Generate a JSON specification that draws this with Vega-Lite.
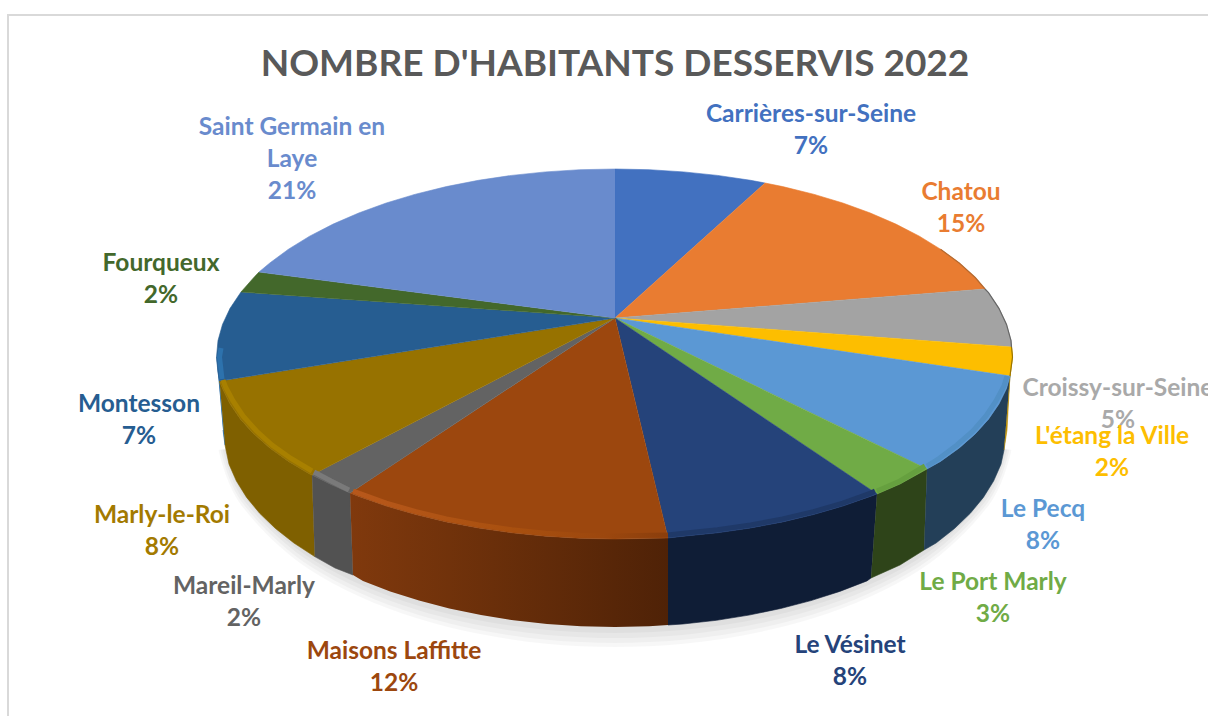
{
"$schema":"https://vega.github.io/schema/vega-lite/v6.json",
"width":1208,"height":716,"padding":0,"autosize":{"type":"none"},"background":"white",
"view":{"stroke":null},
"title":{"text":"NOMBRE D'HABITANTS DESSERVIS 2022","anchor":"middle","offset":-113,"dx":11,"baseline":"alphabetic","font":"Lato","fontSize":37,"fontWeight":700,"color":"#595959"},
"datasets":{
"frame":[{"part":"frame","i":1,"x":-607,"y":-398},{"part":"frame","i":2,"x":-607,"y":303},{"part":"frame","i":3,"x":593,"y":303}],
"shadow":[
{"part":"s1","i":0,"x":-390.5,"y":-130.6},{"part":"s1","i":1,"x":-368.4,"y":-182.1},{"part":"s1","i":2,"x":-300.3,"y":-242.9},{"part":"s1","i":3,"x":-196,"y":-287.9},{"part":"s1","i":4,"x":-68.1,"y":-311.9},{"part":"s1","i":5,"x":68.1,"y":-311.9},{"part":"s1","i":6,"x":196,"y":-287.9},{"part":"s1","i":7,"x":300.3,"y":-242.9},{"part":"s1","i":8,"x":368.4,"y":-182.1},{"part":"s1","i":8.5,"x":390.5,"y":-130.6},
{"part":"s2","i":0,"x":-392.5,"y":-131},{"part":"s2","i":1,"x":-370.2,"y":-183.8},{"part":"s2","i":2,"x":-301.8,"y":-246.1},{"part":"s2","i":3,"x":-197,"y":-292.3},{"part":"s2","i":4,"x":-68.4,"y":-316.9},{"part":"s2","i":5,"x":68.4,"y":-316.9},{"part":"s2","i":6,"x":197,"y":-292.3},{"part":"s2","i":7,"x":301.8,"y":-246.1},{"part":"s2","i":8,"x":370.2,"y":-183.8},{"part":"s2","i":8.5,"x":392.5,"y":-131},
{"part":"s3","i":0,"x":-394.5,"y":-131.5},{"part":"s3","i":1,"x":-372.1,"y":-185.5},{"part":"s3","i":2,"x":-303.3,"y":-249.3},{"part":"s3","i":3,"x":-198,"y":-296.6},{"part":"s3","i":4,"x":-68.8,"y":-321.8},{"part":"s3","i":5,"x":68.8,"y":-321.8},{"part":"s3","i":6,"x":198,"y":-296.6},{"part":"s3","i":7,"x":303.3,"y":-249.3},{"part":"s3","i":8,"x":372.1,"y":-185.5},{"part":"s3","i":8.5,"x":394.5,"y":-131.5},
{"part":"s4","i":0,"x":-396.5,"y":-131.8},{"part":"s4","i":1,"x":-374,"y":-186.9},{"part":"s4","i":2,"x":-304.9,"y":-251.9},{"part":"s4","i":3,"x":-199,"y":-300},{"part":"s4","i":4,"x":-69.1,"y":-325.7},{"part":"s4","i":5,"x":69.1,"y":-325.7},{"part":"s4","i":6,"x":199,"y":-300},{"part":"s4","i":7,"x":304.9,"y":-251.9},{"part":"s4","i":8,"x":374,"y":-186.9},{"part":"s4","i":8.5,"x":396.5,"y":-131.8}
],
"sides":[
{"part":"Montesson côté","i":1,"x":-398.5,"y":-39},{"part":"Montesson côté","i":2,"x":-395.5,"y":-63},{"part":"Montesson côté","i":3,"x":-390,"y":-127},{"part":"Montesson côté","i":4,"x":-392,"y":-112},
{"part":"Marly côté","i":1,"x":-395.5,"y":-63},{"part":"Marly côté","i":2,"x":-392.5,"y":-70.6},{"part":"Marly côté","i":2.5,"x":-384.9,"y":-86.1},{"part":"Marly côté","i":3,"x":-374.5,"y":-101.2},{"part":"Marly côté","i":3.5,"x":-361.2,"y":-115.9},{"part":"Marly côté","i":4,"x":-345.2,"y":-130},{"part":"Marly côté","i":4.5,"x":-326.5,"y":-143.4},{"part":"Marly côté","i":5,"x":-305.4,"y":-156},{"part":"Marly côté","i":6,"x":-303,"y":-157},{"part":"Marly côté","i":7,"x":-300.3,"y":-238.6},{"part":"Marly côté","i":7.5,"x":-321.1,"y":-225},{"part":"Marly côté","i":8,"x":-339.5,"y":-210.5},{"part":"Marly côté","i":8.5,"x":-355.3,"y":-195.3},{"part":"Marly côté","i":9,"x":-368.4,"y":-179.4},{"part":"Marly côté","i":9.5,"x":-378.6,"y":-163},{"part":"Marly côté","i":10,"x":-386,"y":-146.2},{"part":"Marly côté","i":11,"x":-390,"y":-127},
{"part":"Mareil côté","i":1,"x":-303,"y":-157},{"part":"Mareil côté","i":2,"x":-285,"y":-166},{"part":"Mareil côté","i":3,"x":-265,"y":-175},{"part":"Mareil côté","i":4,"x":-262,"y":-257},{"part":"Mareil côté","i":5,"x":-280,"y":-250},{"part":"Mareil côté","i":6,"x":-300.3,"y":-238.6},
{"part":"Vésinet côté","i":1,"x":53,"y":-220},{"part":"Vésinet côté","i":2,"x":68.6,"y":-218.2},{"part":"Vésinet côté","i":2.5,"x":102.5,"y":-214.8},{"part":"Vésinet côté","i":3,"x":135.6,"y":-210},{"part":"Vésinet côté","i":3.5,"x":167.7,"y":-203.9},{"part":"Vésinet côté","i":4,"x":198.5,"y":-196.6},{"part":"Vésinet côté","i":4.5,"x":227.8,"y":-188.1},{"part":"Vésinet côté","i":5,"x":255.3,"y":-178.4},{"part":"Vésinet côté","i":6,"x":262,"y":-176},{"part":"Vésinet côté","i":7,"x":256,"y":-260},{"part":"Vésinet côté","i":8,"x":252,"y":-262.9},{"part":"Vésinet côté","i":8.5,"x":224.8,"y":-273.4},{"part":"Vésinet côté","i":9,"x":196,"y":-282.6},{"part":"Vésinet côté","i":9.5,"x":165.7,"y":-290.5},{"part":"Vésinet côté","i":10,"x":134,"y":-297.1},{"part":"Vésinet côté","i":10.5,"x":101.5,"y":-302.3},{"part":"Vésinet côté","i":11,"x":68,"y":-306},{"part":"Vésinet côté","i":12,"x":53,"y":-307},
{"part":"Port côté","i":1,"x":262,"y":-176},{"part":"Port côté","i":2,"x":285,"y":-166},{"part":"Port côté","i":3,"x":312,"y":-151},{"part":"Port côté","i":4,"x":309,"y":-232},{"part":"Port côté","i":5,"x":285,"y":-247},{"part":"Port côté","i":6,"x":256,"y":-260},
{"part":"Pecq côté","i":1,"x":312,"y":-151},{"part":"Pecq côté","i":1.5,"x":325.5,"y":-143.4},{"part":"Pecq côté","i":2,"x":344.2,"y":-130},{"part":"Pecq côté","i":2.5,"x":360.2,"y":-115.9},{"part":"Pecq côté","i":3,"x":373.5,"y":-101.2},{"part":"Pecq côté","i":3.5,"x":383.9,"y":-86.1},{"part":"Pecq côté","i":4,"x":391.5,"y":-70.6},{"part":"Pecq côté","i":5,"x":395,"y":-58},{"part":"Pecq côté","i":6,"x":389,"y":-132},{"part":"Pecq côté","i":7,"x":386,"y":-146.2},{"part":"Pecq côté","i":7.5,"x":378.6,"y":-163},{"part":"Pecq côté","i":8,"x":368.4,"y":-179.4},{"part":"Pecq côté","i":8.5,"x":355.3,"y":-195.3},{"part":"Pecq côté","i":9,"x":339.5,"y":-210.5},{"part":"Pecq côté","i":9.5,"x":321.1,"y":-225},{"part":"Pecq côté","i":10,"x":309,"y":-232},
{"part":"Étang côté","i":1,"x":395,"y":-58},{"part":"Étang côté","i":2,"x":397.5,"y":-39},{"part":"Étang côté","i":3,"x":396.5,"y":-29},{"part":"Étang côté","i":4,"x":392,"y":-112},{"part":"Étang côté","i":5,"x":389,"y":-132}
],
"maisons":[
{"part":"Maisons côté","i":1,"x":-265,"y":-175},{"part":"Maisons côté","i":2,"x":-256.3,"y":-178.4},{"part":"Maisons côté","i":2.5,"x":-228.8,"y":-188.1},{"part":"Maisons côté","i":3,"x":-199.5,"y":-196.6},{"part":"Maisons côté","i":3.5,"x":-168.7,"y":-203.9},{"part":"Maisons côté","i":4,"x":-136.6,"y":-210},{"part":"Maisons côté","i":4.5,"x":-103.5,"y":-214.8},{"part":"Maisons côté","i":5,"x":-69.6,"y":-218.2},{"part":"Maisons côté","i":5.5,"x":-35.2,"y":-220.3},{"part":"Maisons côté","i":6,"x":-0.5,"y":-221},{"part":"Maisons côté","i":6.5,"x":34.2,"y":-220.3},{"part":"Maisons côté","i":7,"x":53,"y":-220},{"part":"Maisons côté","i":8,"x":53,"y":-307},{"part":"Maisons côté","i":8.5,"x":34.2,"y":-308.3},{"part":"Maisons côté","i":9,"x":0,"y":-309},{"part":"Maisons côté","i":9.5,"x":-34.2,"y":-308.3},{"part":"Maisons côté","i":10,"x":-68,"y":-306},{"part":"Maisons côté","i":10.5,"x":-101.5,"y":-302.3},{"part":"Maisons côté","i":11,"x":-134,"y":-297.1},{"part":"Maisons côté","i":11.5,"x":-165.7,"y":-290.5},{"part":"Maisons côté","i":12,"x":-196,"y":-282.6},{"part":"Maisons côté","i":12.5,"x":-224.8,"y":-273.4},{"part":"Maisons côté","i":13,"x":-252,"y":-262.9},{"part":"Maisons côté","i":14,"x":-262,"y":-257}
],
"tops":[
{"part":"Carrières-sur-Seine","i":1,"x":0,"y":0},{"part":"Carrières-sur-Seine","i":2,"x":0,"y":149},{"part":"Carrières-sur-Seine","i":2.5,"x":34.2,"y":148.3},{"part":"Carrières-sur-Seine","i":3,"x":68.6,"y":146.1},{"part":"Carrières-sur-Seine","i":3.5,"x":102.5,"y":142.6},{"part":"Carrières-sur-Seine","i":4,"x":135.6,"y":137.7},{"part":"Carrières-sur-Seine","i":5,"x":150,"y":135},
{"part":"Chatou","i":1,"x":0,"y":0},{"part":"Chatou","i":2,"x":150,"y":135},{"part":"Chatou","i":2.5,"x":167.7,"y":131.4},{"part":"Chatou","i":3,"x":198.5,"y":123.8},{"part":"Chatou","i":3.5,"x":227.8,"y":115},{"part":"Chatou","i":4,"x":255.3,"y":105},{"part":"Chatou","i":4.5,"x":280.9,"y":93.9},{"part":"Chatou","i":5,"x":304.4,"y":81.8},{"part":"Chatou","i":5.5,"x":325.5,"y":68.8},{"part":"Chatou","i":6,"x":344.2,"y":55},{"part":"Chatou","i":6.5,"x":360.2,"y":40.5},{"part":"Chatou","i":7,"x":370,"y":29},
{"part":"Croissy-sur-Seine","i":1,"x":0,"y":0},{"part":"Croissy-sur-Seine","i":2,"x":370,"y":29},{"part":"Croissy-sur-Seine","i":3,"x":373.5,"y":25.3},{"part":"Croissy-sur-Seine","i":3.5,"x":383.9,"y":9.7},{"part":"Croissy-sur-Seine","i":4,"x":391.5,"y":-6.4},{"part":"Croissy-sur-Seine","i":4.5,"x":396,"y":-22.6},{"part":"Croissy-sur-Seine","i":5,"x":396.5,"y":-29},
{"part":"L'étang la Ville","i":1,"x":0,"y":0},{"part":"L'étang la Ville","i":2,"x":396.5,"y":-29},{"part":"L'étang la Ville","i":3,"x":397.5,"y":-39},{"part":"L'étang la Ville","i":4,"x":395,"y":-58},
{"part":"Le Pecq","i":1,"x":0,"y":0},{"part":"Le Pecq","i":2,"x":395,"y":-58},{"part":"Le Pecq","i":3,"x":391.5,"y":-70.6},{"part":"Le Pecq","i":3.5,"x":383.9,"y":-86.1},{"part":"Le Pecq","i":4,"x":373.5,"y":-101.2},{"part":"Le Pecq","i":4.5,"x":360.2,"y":-115.9},{"part":"Le Pecq","i":5,"x":344.2,"y":-130},{"part":"Le Pecq","i":5.5,"x":325.5,"y":-143.4},{"part":"Le Pecq","i":6,"x":312,"y":-151},
{"part":"Le Port Marly","i":1,"x":0,"y":0},{"part":"Le Port Marly","i":2,"x":312,"y":-151},{"part":"Le Port Marly","i":3,"x":285,"y":-166},{"part":"Le Port Marly","i":4,"x":262,"y":-176},
{"part":"Le Vésinet","i":1,"x":0,"y":0},{"part":"Le Vésinet","i":2,"x":262,"y":-176},{"part":"Le Vésinet","i":3,"x":255.3,"y":-178.4},{"part":"Le Vésinet","i":3.5,"x":227.8,"y":-188.1},{"part":"Le Vésinet","i":4,"x":198.5,"y":-196.6},{"part":"Le Vésinet","i":4.5,"x":167.7,"y":-203.9},{"part":"Le Vésinet","i":5,"x":135.6,"y":-210},{"part":"Le Vésinet","i":5.5,"x":102.5,"y":-214.8},{"part":"Le Vésinet","i":6,"x":68.6,"y":-218.2},{"part":"Le Vésinet","i":7,"x":53,"y":-220},
{"part":"Maisons Laffitte","i":1,"x":0,"y":0},{"part":"Maisons Laffitte","i":2,"x":53,"y":-220},{"part":"Maisons Laffitte","i":2.5,"x":34.2,"y":-220.3},{"part":"Maisons Laffitte","i":3,"x":-0.5,"y":-221},{"part":"Maisons Laffitte","i":3.5,"x":-35.2,"y":-220.3},{"part":"Maisons Laffitte","i":4,"x":-69.6,"y":-218.2},{"part":"Maisons Laffitte","i":4.5,"x":-103.5,"y":-214.8},{"part":"Maisons Laffitte","i":5,"x":-136.6,"y":-210},{"part":"Maisons Laffitte","i":5.5,"x":-168.7,"y":-203.9},{"part":"Maisons Laffitte","i":6,"x":-199.5,"y":-196.6},{"part":"Maisons Laffitte","i":6.5,"x":-228.8,"y":-188.1},{"part":"Maisons Laffitte","i":7,"x":-256.3,"y":-178.4},{"part":"Maisons Laffitte","i":8,"x":-265,"y":-175},
{"part":"Mareil-Marly","i":1,"x":0,"y":0},{"part":"Mareil-Marly","i":2,"x":-265,"y":-175},{"part":"Mareil-Marly","i":3,"x":-285,"y":-166},{"part":"Mareil-Marly","i":4,"x":-303,"y":-157},
{"part":"Marly-le-Roi","i":1,"x":0,"y":0},{"part":"Marly-le-Roi","i":2,"x":-303,"y":-157},{"part":"Marly-le-Roi","i":3,"x":-305.4,"y":-156},{"part":"Marly-le-Roi","i":3.5,"x":-326.5,"y":-143.4},{"part":"Marly-le-Roi","i":4,"x":-345.2,"y":-130},{"part":"Marly-le-Roi","i":4.5,"x":-361.2,"y":-115.9},{"part":"Marly-le-Roi","i":5,"x":-374.5,"y":-101.2},{"part":"Marly-le-Roi","i":5.5,"x":-384.9,"y":-86.1},{"part":"Marly-le-Roi","i":6,"x":-392.5,"y":-70.6},{"part":"Marly-le-Roi","i":7,"x":-395.5,"y":-63},
{"part":"Montesson","i":1,"x":0,"y":0},{"part":"Montesson","i":2,"x":-395.5,"y":-63},{"part":"Montesson","i":2.5,"x":-397,"y":-54.9},{"part":"Montesson","i":3,"x":-398.5,"y":-39},{"part":"Montesson","i":3.5,"x":-397,"y":-22.6},{"part":"Montesson","i":4,"x":-392.5,"y":-6.4},{"part":"Montesson","i":4.5,"x":-384.9,"y":9.7},{"part":"Montesson","i":5,"x":-374,"y":26},
{"part":"Fourqueux","i":1,"x":0,"y":0},{"part":"Fourqueux","i":2,"x":-374,"y":26},{"part":"Fourqueux","i":2.5,"x":-361.2,"y":40.5},{"part":"Fourqueux","i":3,"x":-356,"y":46},
{"part":"Saint Germain en Laye","i":1,"x":0,"y":0},{"part":"Saint Germain en Laye","i":2,"x":-356,"y":46},{"part":"Saint Germain en Laye","i":3,"x":-345.2,"y":55},{"part":"Saint Germain en Laye","i":3.5,"x":-326.5,"y":68.8},{"part":"Saint Germain en Laye","i":4,"x":-305.4,"y":81.8},{"part":"Saint Germain en Laye","i":4.5,"x":-281.9,"y":93.9},{"part":"Saint Germain en Laye","i":5,"x":-256.3,"y":105},{"part":"Saint Germain en Laye","i":5.5,"x":-228.8,"y":115},{"part":"Saint Germain en Laye","i":6,"x":-199.5,"y":123.8},{"part":"Saint Germain en Laye","i":6.5,"x":-168.7,"y":131.4},{"part":"Saint Germain en Laye","i":7,"x":-136.6,"y":137.7},{"part":"Saint Germain en Laye","i":7.5,"x":-103.5,"y":142.6},{"part":"Saint Germain en Laye","i":8,"x":-69.6,"y":146.1},{"part":"Saint Germain en Laye","i":8.5,"x":-35.2,"y":148.3},{"part":"Saint Germain en Laye","i":9,"x":0,"y":149}
],
"rims":[
{"part":"Montesson bord","i":1,"x":-394,"y":-30},{"part":"Montesson bord","i":2,"x":-395.5,"y":-39},{"part":"Montesson bord","i":3,"x":-393,"y":-61},
{"part":"Marly bord","i":1,"x":-392,"y":-62},{"part":"Marly bord","i":2,"x":-389.5,"y":-69},{"part":"Marly bord","i":2.5,"x":-382,"y":-83},{"part":"Marly bord","i":3,"x":-372,"y":-98},{"part":"Marly bord","i":3.5,"x":-358.5,"y":-113},{"part":"Marly bord","i":4,"x":-343,"y":-127},{"part":"Marly bord","i":4.5,"x":-324,"y":-140.5},{"part":"Marly bord","i":5,"x":-303,"y":-153},
{"part":"Mareil bord","i":1,"x":-301,"y":-154},{"part":"Mareil bord","i":2,"x":-284,"y":-163},{"part":"Mareil bord","i":3,"x":-266,"y":-172},
{"part":"Vésinet bord","i":1,"x":53,"y":-217},{"part":"Vésinet bord","i":2,"x":68.6,"y":-215.2},{"part":"Vésinet bord","i":2.5,"x":102.5,"y":-211.8},{"part":"Vésinet bord","i":3,"x":135.6,"y":-207},{"part":"Vésinet bord","i":3.5,"x":167.7,"y":-200.9},{"part":"Vésinet bord","i":4,"x":198.5,"y":-193.6},{"part":"Vésinet bord","i":4.5,"x":227.8,"y":-185.1},{"part":"Vésinet bord","i":5,"x":255,"y":-175.4},{"part":"Vésinet bord","i":6,"x":260,"y":-173},
{"part":"Port bord","i":1,"x":262,"y":-173},{"part":"Port bord","i":2,"x":285,"y":-163},{"part":"Port bord","i":3,"x":310,"y":-148},
{"part":"Pecq bord","i":1,"x":312,"y":-148},{"part":"Pecq bord","i":1.5,"x":324,"y":-140.5},{"part":"Pecq bord","i":2,"x":342,"y":-127},{"part":"Pecq bord","i":2.5,"x":358,"y":-113},{"part":"Pecq bord","i":3,"x":371,"y":-98},{"part":"Pecq bord","i":3.5,"x":381,"y":-83},{"part":"Pecq bord","i":4,"x":389,"y":-68},{"part":"Pecq bord","i":5,"x":392,"y":-58}
],
"maisonsRim":[
{"part":"Maisons bord","i":1,"x":-262,"y":-173},{"part":"Maisons bord","i":2,"x":-255.8,"y":-175.4},{"part":"Maisons bord","i":2.5,"x":-228.8,"y":-185.1},{"part":"Maisons bord","i":3,"x":-199,"y":-193.6},{"part":"Maisons bord","i":3.5,"x":-168.7,"y":-200.9},{"part":"Maisons bord","i":4,"x":-136.3,"y":-207},{"part":"Maisons bord","i":4.5,"x":-103.5,"y":-211.8},{"part":"Maisons bord","i":5,"x":-69.5,"y":-215.2},{"part":"Maisons bord","i":5.5,"x":-35.2,"y":-217.3},{"part":"Maisons bord","i":6,"x":-0.5,"y":-218},{"part":"Maisons bord","i":6.5,"x":34.2,"y":-217.3},{"part":"Maisons bord","i":7,"x":53,"y":-217}
],
"edges":[
{"part":"Chatou arête","i":1,"x":325.5,"y":68.8},{"part":"Chatou arête","i":2,"x":344.2,"y":55},{"part":"Chatou arête","i":2.5,"x":360.2,"y":40.5},{"part":"Chatou arête","i":3,"x":370,"y":29},
{"part":"Croissy arête","i":1,"x":370,"y":29},{"part":"Croissy arête","i":2,"x":373.5,"y":25.3},{"part":"Croissy arête","i":2.5,"x":383.9,"y":9.7},{"part":"Croissy arête","i":3,"x":391.5,"y":-6.4},{"part":"Croissy arête","i":3.5,"x":396,"y":-22.6},{"part":"Croissy arête","i":4,"x":396.5,"y":-29},
{"part":"Étang arête","i":1,"x":396.5,"y":-29},{"part":"Étang arête","i":2,"x":397.5,"y":-39},{"part":"Étang arête","i":3,"x":395,"y":-58}
],
"labels":[
{"label":"Carrières-sur-Seine\n7%","slice":"Carrières-sur-Seine","share":7,"x":196,"y":196},
{"label":"Chatou\n15%","slice":"Chatou","share":15,"x":346,"y":118},
{"label":"Croissy-sur-Seine\n5%","slice":"Croissy-sur-Seine","share":5,"x":503,"y":-78},
{"label":"L'étang la Ville\n2%","slice":"L'étang la Ville","share":2,"x":497,"y":-126},
{"label":"Le Pecq\n8%","slice":"Le Pecq","share":8,"x":428,"y":-199},
{"label":"Le Port Marly\n3%","slice":"Le Port Marly","share":3,"x":378,"y":-272},
{"label":"Le Vésinet\n8%","slice":"Le Vésinet","share":8,"x":235,"y":-335},
{"label":"Maisons Laffitte\n12%","slice":"Maisons Laffitte","share":12,"x":-221,"y":-341},
{"label":"Mareil-Marly\n2%","slice":"Mareil-Marly","share":2,"x":-371,"y":-276},
{"label":"Marly-le-Roi\n8%","slice":"Marly-le-Roi","share":8,"x":-453,"y":-205},
{"label":"Montesson\n7%","slice":"Montesson","share":7,"x":-476,"y":-94},
{"label":"Fourqueux\n2%","slice":"Fourqueux","share":2,"x":-454,"y":47},
{"label":"Saint Germain en\nLaye\n21%","slice":"Saint Germain en Laye","share":21,"x":-323,"y":183}
]
},
"encoding":{
"x":{"field":"x","type":"quantitative","axis":null,"scale":{"domain":[-615,593],"nice":false,"zero":false}},
"y":{"field":"y","type":"quantitative","axis":null,"scale":{"domain":[-398,318],"nice":false,"zero":false}}
},
"layer":[
{"data":{"name":"frame"},"mark":{"type":"line","stroke":"#d9d9d9","strokeWidth":2,"clip":true},"encoding":{"order":{"field":"i"}}},
{"data":{"name":"shadow"},"mark":{"type":"line","fill":"#000000","fillOpacity":0.03,"strokeWidth":0,"interpolate":"cardinal"},"encoding":{"detail":{"field":"part"},"order":{"field":"i"}}},
{"data":{"name":"sides"},"mark":{"type":"line","strokeWidth":0.6},
 "encoding":{"order":{"field":"i"},
 "fill":{"field":"part","legend":null,"scale":{"domain":["Montesson côté","Marly côté","Mareil côté","Vésinet côté","Port côté","Pecq côté","Étang côté"],"range":["#2a6ca3","#7f6000","#525252","#0f1d36","#2e4419","#233f58","#b98c00"]}},
 "stroke":{"field":"part","legend":null,"scale":{"domain":["Montesson côté","Marly côté","Mareil côté","Vésinet côté","Port côté","Pecq côté","Étang côté"],"range":["#2a6ca3","#7f6000","#525252","#0f1d36","#2e4419","#233f58","#b98c00"]}}}},
{"data":{"name":"maisons"},"mark":{"type":"line","strokeWidth":0,"fill":{"gradient":"linear","x1":0,"y1":0,"x2":1,"y2":0,"stops":[{"offset":0,"color":"#80390d"},{"offset":0.45,"color":"#6a2f0a"},{"offset":1,"color":"#4f2207"}]}},"encoding":{"order":{"field":"i"}}},
{"data":{"name":"tops"},"mark":{"type":"line","strokeWidth":0.6},
 "encoding":{"order":{"field":"i"},
 "fill":{"field":"part","legend":null,"scale":{"domain":["Carrières-sur-Seine","Chatou","Croissy-sur-Seine","L'étang la Ville","Le Pecq","Le Port Marly","Le Vésinet","Maisons Laffitte","Mareil-Marly","Marly-le-Roi","Montesson","Fourqueux","Saint Germain en Laye"],"range":["#4271c0","#e97c31","#a3a3a3","#fdbe00","#5b98d4","#70ab46","#25437a","#9c470e","#636363","#977200","#265d91","#43682b","#698bcd"]}},
 "stroke":{"field":"part","legend":null,"scale":{"domain":["Carrières-sur-Seine","Chatou","Croissy-sur-Seine","L'étang la Ville","Le Pecq","Le Port Marly","Le Vésinet","Maisons Laffitte","Mareil-Marly","Marly-le-Roi","Montesson","Fourqueux","Saint Germain en Laye"],"range":["#4271c0","#e97c31","#a3a3a3","#fdbe00","#5b98d4","#70ab46","#25437a","#9c470e","#636363","#977200","#265d91","#43682b","#698bcd"]}}}},
{"data":{"name":"rims"},"mark":{"type":"line","strokeWidth":5,"strokeCap":"butt"},
 "encoding":{"order":{"field":"i"},
 "stroke":{"field":"part","legend":null,"scale":{"domain":["Montesson bord","Marly bord","Mareil bord","Vésinet bord","Port bord","Pecq bord"],"range":["#2d72ad","#a88000","#7a7a7a","#1f3968","#66a03f","#5290c6"]}}}},
{"data":{"name":"maisonsRim"},"mark":{"type":"line","strokeWidth":5,"stroke":{"gradient":"linear","x1":0,"y1":0,"x2":1,"y2":0,"stops":[{"offset":0,"color":"#b8581b"},{"offset":0.5,"color":"#a9500f"},{"offset":0.8,"color":"#9c470e"},{"offset":1,"color":"#8a3e0c"}]}},"encoding":{"order":{"field":"i"}}},
{"data":{"name":"edges"},"mark":{"type":"line","strokeWidth":1.2},
 "encoding":{"order":{"field":"i"},
 "stroke":{"field":"part","legend":null,"scale":{"domain":["Chatou arête","Croissy arête","Étang arête"],"range":["#b56a30","#666666","#9a7500"]}}}},
{"data":{"name":"labels"},"mark":{"type":"text","font":"Lato","fontSize":24.5,"fontWeight":700,"align":"center","baseline":"alphabetic","lineBreak":"\n","lineHeight":32},
 "encoding":{"text":{"field":"label"},
 "color":{"field":"slice","legend":null,"scale":{"domain":["Carrières-sur-Seine","Chatou","Croissy-sur-Seine","L'étang la Ville","Le Pecq","Le Port Marly","Le Vésinet","Maisons Laffitte","Mareil-Marly","Marly-le-Roi","Montesson","Fourqueux","Saint Germain en Laye"],"range":["#4271c0","#e97c31","#a9a9a9","#fdbe00","#5b98d4","#70ab46","#25437a","#9c470e","#636363","#a37a00","#265d91","#43682b","#698bcd"]}}}}
],
"resolve":{"scale":{"fill":"independent","stroke":"independent","color":"independent"}}
}
